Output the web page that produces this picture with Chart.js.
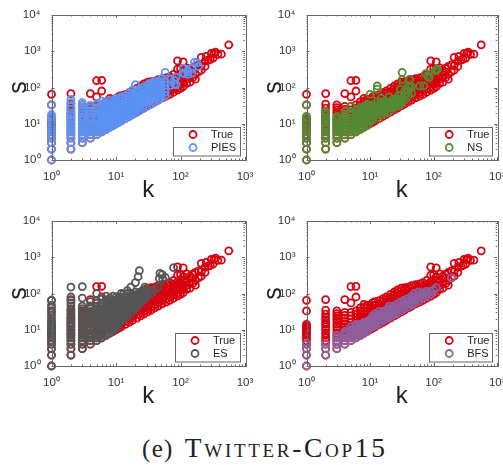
<!DOCTYPE html>
<html>
<head>
<meta charset="utf-8">
<title>Twitter-Cop15</title>
<script src="https://cdn.jsdelivr.net/npm/chart.js@4/dist/chart.umd.min.js"></script>
<style>
  html, body { margin: 0; padding: 0; background: #fff; }
  body { position: relative; width: 503px; height: 465px; overflow: hidden; }
  canvas { position: absolute; }
  #caption {
    position: absolute; left: 142px; top: 432px;
    font: 25px "Liberation Serif", serif; color: #222; white-space: pre; letter-spacing: 1.3px;
  }
  #caption b { font-weight: normal; font-size: 27.5px; font-variant: small-caps; letter-spacing: 2.7px; margin-left: -4px; }
</style>
</head>
<body>
<canvas id="pies" width="255" height="205" style="left:0;top:0"></canvas>
<canvas id="ns" width="248" height="205" style="left:255px;top:0"></canvas>
<canvas id="es" width="255" height="205" style="left:0;top:206px"></canvas>
<canvas id="bfs" width="248" height="205" style="left:255px;top:206px"></canvas>
<div id="caption">(e)  <b>Twitter-Cop15</b></div>
<script>
// each k has a list of s values
const trueK = [1, 2, 3, 4, 5, 6, 7, 8, 9, 10, 11, 12, 14, 16, 18, 21, 24, 27, 31, 35, 40, 45, 52, 60, 68, 78, 90, 100, 110, 125, 140, 155, 170, 190, 210, 240, 250, 270, 290, 300, 320, 330, 350, 380, 430, 560];
const trueS = [
  [1, 2, 3, 4, 5, 6, 7, 8, 9, 10, 11, 12, 13, 14, 33, 65],
  [2, 3, 4, 5, 6, 7, 8, 10, 12, 14, 16, 19, 22, 27, 35, 68],
  [3, 4, 5, 6, 7, 8, 10, 12, 14, 17, 20, 24, 28, 33],
  [4, 5, 6, 7, 8, 10, 12, 14, 17, 21, 25, 30, 68],
  [5, 6, 7, 9, 11, 13, 16, 20, 24, 30, 55, 155],
  [6, 7, 8, 10, 12, 15, 18, 22, 27, 33, 80, 158],
  [7, 8, 10, 12, 15, 18, 22, 27, 33, 40],
  [8, 10, 12, 15, 18, 22, 27, 33, 42, 50],
  [9, 11, 14, 17, 21, 26, 32, 40, 48],
  [10, 12, 15, 19, 24, 30, 38, 46],
  [11, 13, 16, 20, 25, 31, 39, 48, 56],
  [12, 15, 19, 24, 30, 38, 47, 60],
  [14, 17, 21, 26, 33, 41, 51, 64],
  [16, 20, 25, 31, 39, 49, 61, 72],
  [18, 22, 28, 35, 44, 55, 68, 80],
  [21, 26, 32, 40, 50, 62, 78, 95],
  [24, 30, 37, 46, 58, 72, 90, 110],
  [27, 33, 41, 52, 65, 81, 100, 125],
  [31, 38, 48, 60, 75, 94, 118, 140],
  [35, 43, 54, 67, 84, 105, 130, 145],
  [40, 50, 62, 78, 97, 120, 150],
  [45, 56, 70, 88, 110, 135, 165],
  [52, 65, 81, 100, 125, 160, 175],
  [58, 72, 90, 112, 140, 185],
  [65, 82, 100, 128, 160, 200],
  [74, 92, 115, 145, 180, 230],
  [85, 105, 130, 165, 210, 320, 540],
  [95, 120, 150, 190, 240, 330],
  [105, 135, 170, 220, 290, 510],
  [130, 170, 225, 350],
  [140, 190, 260, 300],
  [190, 270, 340],
  [170, 230, 380],
  [270, 420],
  [300, 400, 680],
  [380, 530],
  [720],
  [570],
  [600],
  [870],
  [650],
  [870],
  [950],
  [820],
  [830],
  [1500]
];

const piesK = [1, 2, 3, 4, 5, 6, 7, 8, 9, 10, 11, 12, 14, 16, 18, 20, 23, 26, 30, 34, 39, 45, 50, 58, 70, 80, 85, 110, 115, 130, 150, 165, 180, 190];
const piesS = [
  [1, 2, 3, 4, 5, 6, 7, 8, 10, 12, 14, 16, 18, 33],
  [2, 3, 4, 5, 6, 7, 8, 9, 10, 12, 14, 17, 20, 25, 30, 38, 47],
  [3, 4, 5, 6, 7, 8, 9, 10, 12, 14, 16, 19, 23, 28, 33, 38],
  [4, 5, 6, 7, 8, 9, 10, 12, 14, 16, 19, 23, 28, 32],
  [5, 6, 7, 8, 9, 10, 12, 14, 16, 19, 23, 28, 34],
  [6, 7, 8, 9, 10, 12, 14, 17, 20, 24, 29, 35, 42],
  [7, 8, 9, 11, 13, 15, 18, 22, 26, 31, 38],
  [8, 9, 11, 13, 15, 18, 22, 26, 31, 37, 44],
  [9, 10, 11, 13, 15, 18, 22, 26, 31, 37, 44],
  [10, 11, 13, 15, 18, 22, 26, 31, 37, 44, 50],
  [11, 12, 14, 17, 20, 24, 29, 35, 42, 50],
  [12, 13, 16, 19, 23, 28, 34, 41, 50, 55],
  [14, 16, 19, 23, 28, 34, 41, 50, 60],
  [16, 18, 22, 27, 33, 40, 48, 58, 70],
  [18, 21, 26, 32, 39, 47, 57, 70, 85],
  [20, 24, 29, 35, 43, 52, 63, 77, 120],
  [23, 27, 33, 40, 49, 60, 73, 90],
  [26, 31, 38, 46, 56, 68, 83, 100],
  [30, 37, 45, 55, 67, 81, 98, 115],
  [34, 43, 52, 63, 77, 93, 115, 130],
  [39, 50, 60, 73, 89, 108, 130, 145],
  [45, 58, 70, 85, 103, 125, 150],
  [52, 65, 80, 97, 118, 145, 170],
  [60, 75, 92, 115, 145, 260],
  [115, 170],
  [125, 160],
  [120, 190],
  [250, 340],
  [240],
  [230, 290],
  [250, 330],
  [500],
  [480],
  [380]
];

const nsK = [1, 2, 3, 4, 5, 6, 7, 8, 9, 10, 11, 13, 15, 17, 20, 23, 25, 28, 30, 32, 35, 40, 42, 45, 60, 70, 75, 80, 85, 105, 110, 115];
const nsS = [
  [1, 2, 3, 4, 5, 6, 7, 8, 10, 12, 14, 16, 33],
  [2, 3, 4, 5, 6, 7, 8, 9, 11, 13, 15, 18, 22],
  [3, 4, 5, 6, 7, 8, 9, 10, 12, 14, 16],
  [4, 5, 6, 7, 8, 10, 12, 14, 17, 22],
  [5, 6, 7, 8, 10, 12, 14, 17, 21, 30],
  [6, 7, 8, 10, 12, 14, 17, 20, 24],
  [7, 8, 10, 12, 14, 17, 20, 24, 28],
  [8, 10, 12, 14, 17, 20, 24, 30],
  [9, 11, 13, 16, 19, 23, 28, 34],
  [11, 13, 16, 19, 23, 28, 32, 65],
  [13, 16, 19, 23, 28, 33],
  [15, 18, 22, 27, 33, 40, 90, 110],
  [17, 21, 26, 32, 40, 50],
  [20, 24, 29, 35, 42],
  [22, 27, 33, 40, 55],
  [27, 33, 40, 48],
  [30, 36, 45],
  [32, 40, 48, 60],
  [35, 44, 60, 90],
  [40, 50, 165, 260],
  [45, 60, 80],
  [60, 80, 110],
  [100, 170],
  [70, 105],
  [110],
  [110],
  [240],
  [210],
  [190],
  [290],
  [310],
  [320]
];

const esK = [1, 2, 3, 4, 5, 6, 7, 8, 9, 10, 11, 12, 13, 15, 17, 20, 22, 23, 25, 28, 30, 35, 40, 45, 47, 48, 52, 53, 58, 78];
const esS = [
  [1, 2, 3, 4, 5, 6, 7, 8, 9, 10, 11, 12, 14, 16, 18, 21, 25, 30, 40, 48, 65],
  [2, 3, 4, 5, 6, 7, 8, 9, 10, 12, 14, 16, 19, 22, 26, 31, 37, 45, 55, 65, 80, 150],
  [3, 4, 5, 6, 7, 8, 9, 10, 12, 14, 16, 19, 22, 26, 31, 38, 45, 75, 155],
  [4, 5, 6, 7, 8, 10, 12, 14, 16, 19, 23, 27, 32, 38, 45, 60],
  [5, 6, 7, 8, 10, 12, 14, 16, 19, 23, 27, 32, 38, 45, 54, 65, 100],
  [6, 7, 8, 10, 12, 14, 16, 19, 23, 27, 32, 38, 45, 54, 70],
  [7, 8, 10, 12, 14, 16, 19, 23, 27, 32, 38, 45, 54, 65, 85],
  [8, 10, 12, 14, 16, 19, 23, 27, 32, 38, 45, 54, 65, 75],
  [9, 11, 13, 16, 19, 23, 27, 32, 38, 45, 54, 65, 85],
  [11, 13, 16, 19, 23, 27, 32, 38, 45, 54, 65, 80],
  [14, 17, 20, 24, 28, 33, 40, 47, 56, 67, 80],
  [18, 21, 25, 30, 36, 43, 51, 61, 73, 100],
  [20, 24, 28, 33, 40, 47, 56, 67, 80, 95],
  [23, 27, 32, 38, 45, 54, 65, 78, 100, 120],
  [29, 33, 40, 48, 58, 70, 85, 100, 150],
  [38, 43, 52, 62, 75, 90, 110, 200],
  [47, 54, 65, 78, 95, 290],
  [430],
  [58, 66, 80, 100, 115],
  [72, 82, 100, 125, 150],
  [85, 95, 115],
  [100, 120],
  [130],
  [150],
  [260],
  [360],
  [330],
  [250],
  [280],
  [520]
];

const bfsK = [1, 2, 3, 4, 5, 6, 7, 8, 9, 10, 11, 12, 14, 16, 18, 20, 23, 26, 30, 34, 39, 45, 50, 58, 68, 78, 90, 100, 110, 190];
const bfsS = [
  [1, 2, 3, 4],
  [2, 3, 4],
  [3, 4, 5, 6, 7],
  [4, 5, 6, 7, 8, 9],
  [5, 6, 7, 8, 9, 10, 12],
  [6, 7, 8, 9, 10, 12, 14],
  [7, 8, 9, 10, 12, 14],
  [8, 9, 10, 12, 14, 16],
  [9, 11, 13, 15, 17],
  [11, 13, 15, 17, 19],
  [12, 14, 17, 20, 24],
  [13, 15, 18, 22, 28],
  [15, 18, 22, 27, 32],
  [18, 21, 25, 30, 32],
  [20, 24, 29, 35],
  [22, 26, 31, 38, 45],
  [25, 30, 36, 44],
  [28, 34, 41, 50],
  [33, 40, 48, 58],
  [37, 45, 55, 65],
  [42, 51, 62, 72],
  [48, 58, 70, 85],
  [55, 66, 80, 100],
  [62, 75, 92, 110],
  [75, 90, 105],
  [85, 100, 115],
  [95, 115],
  [125],
  [145],
  [270]
];

const trueLabel = 'True';
const trueColor = '#d9000f';
const xTicks = [1, 10, 100, 1000];
const yTicks = [1, 10, 100, 1000, 10000];
const minorSteps = [2, 3, 4, 5, 6, 7, 8, 9];
const supers = ['⁰', '¹', '²', '³', '⁴'];

const toPoints = (ks, ss) => ks.flatMap((k, i) => ss[i].map(s => ({ x: k, y: s })));
const decadeLabel = v => '10' + supers[Math.round(Math.log10(v))];

// frame, inward ticks and the legend box are not something Chart.js does by itself
const framePlugin = {
  id: 'frame',
  afterDatasetsDraw(chart, args, opts) {
    const { ctx, chartArea: a, scales } = chart;
    ctx.save();
    ctx.strokeStyle = '#666';
    ctx.lineWidth = 1;
    ctx.strokeRect(Math.round(a.left) + 0.5, Math.round(a.top) + 0.5, Math.round(a.width), Math.round(a.height));
    ctx.beginPath();
    const xTick = (v, len) => {
      const x = Math.round(scales.x.getPixelForValue(v)) + 0.5;
      ctx.moveTo(x, a.bottom); ctx.lineTo(x, a.bottom - len);
      ctx.moveTo(x, a.top); ctx.lineTo(x, a.top + len);
    };
    const yTick = (v, len) => {
      const y = Math.round(scales.y.getPixelForValue(v)) + 0.5;
      ctx.moveTo(a.left, y); ctx.lineTo(a.left + len, y);
      ctx.moveTo(a.right, y); ctx.lineTo(a.right - len, y);
    };
    xTicks.forEach(v => {
      xTick(v, 3);
      if (v < 1000) minorSteps.forEach(m => xTick(v * m, 1.5));
    });
    yTicks.forEach(v => {
      yTick(v, 3);
      if (v < 10000) minorSteps.forEach(m => yTick(v * m, 1.5));
    });
    ctx.stroke();

    const bx = a.right - opts.boxRight - opts.boxWidth;
    const by = a.bottom - 33.5;
    ctx.fillStyle = '#fff';
    ctx.fillRect(bx, by, opts.boxWidth, 28.5);
    ctx.strokeRect(Math.round(bx) + 0.5, Math.round(by) + 0.5, opts.boxWidth, 28.5);
    ctx.font = '11px "Liberation Sans", sans-serif';
    ctx.textBaseline = 'middle';
    chart.data.datasets.forEach((d, i) => {
      const y = by + 8 + i * 13;
      ctx.beginPath();
      ctx.arc(bx + opts.markX, y, 3.5, 0, Math.PI * 2);
      ctx.strokeStyle = d.borderColor;
      ctx.lineWidth = 1.8;
      ctx.stroke();
      ctx.fillStyle = '#222';
      ctx.fillText(d.label, bx + opts.textX, y);
    });
    ctx.restore();
  }
};

function panel(id, label, color, ks, ss, legend, padRight) {
  new Chart(document.getElementById(id), {
    type: 'scatter',
    data: {
      datasets: [
        { label: trueLabel, data: toPoints(trueK, trueS), borderColor: trueColor, backgroundColor: 'transparent', order: 2, clip: false },
        { label: label, data: toPoints(ks, ss), borderColor: color, backgroundColor: 'transparent', order: 1, clip: false }
      ]
    },
    options: {
      responsive: false,
      animation: false,
      layout: { padding: { top: 15, right: padRight } },
      elements: { point: { radius: 3.5, borderWidth: 1.8 } },
      plugins: { legend: { display: false }, tooltip: { enabled: false }, frame: legend },
      scales: {
        x: {
          type: 'logarithmic', min: 1, max: 1000,
          afterFit: s => { s.height = 45; s.paddingLeft = 0; s.paddingRight = 0; },
          grid: { display: false },
          border: { display: false },
          title: { display: true, text: 'k', color: '#222', font: { family: '"Liberation Sans"', size: 24 }, padding: { top: 0, bottom: 0 } },
          ticks: {
            color: '#333', font: { family: '"Liberation Sans"', size: 11.5 }, autoSkip: false, maxRotation: 0, padding: 2,
            callback: v => xTicks.includes(v) ? decadeLabel(v) : null
          }
        },
        y: {
          type: 'logarithmic', min: 1, max: 10000,
          afterFit: s => { s.width = 51.5; s.paddingTop = 0; s.paddingBottom = 0; },
          grid: { display: false },
          border: { display: false },
          title: { display: true, text: 's', color: '#222', font: { family: '"Liberation Sans"', size: 25 }, padding: { top: 4, bottom: 0 } },
          ticks: {
            color: '#333', font: { family: '"Liberation Sans"', size: 11.5 }, autoSkip: false, padding: 3,
            callback: v => yTicks.includes(v) ? decadeLabel(v) : null
          }
        }
      }
    },
    plugins: [framePlugin]
  });
}

panel('pies', 'PIES', '#5b94f5', piesK, piesS, { boxRight: 5, boxWidth: 67, markX: 20, textX: 38 }, 10);
panel('ns', 'NS', '#548a33', nsK, nsS, { boxRight: 5, boxWidth: 63, markX: 20, textX: 38 }, 4);
panel('es', 'ES', '#555555', esK, esS, { boxRight: 5, boxWidth: 65, markX: 20, textX: 38 }, 10);
panel('bfs', 'BFS', '#8e5f9e', bfsK, bfsS, { boxRight: 5, boxWidth: 63, markX: 20, textX: 38 }, 4);
</script>
</body>
</html>
